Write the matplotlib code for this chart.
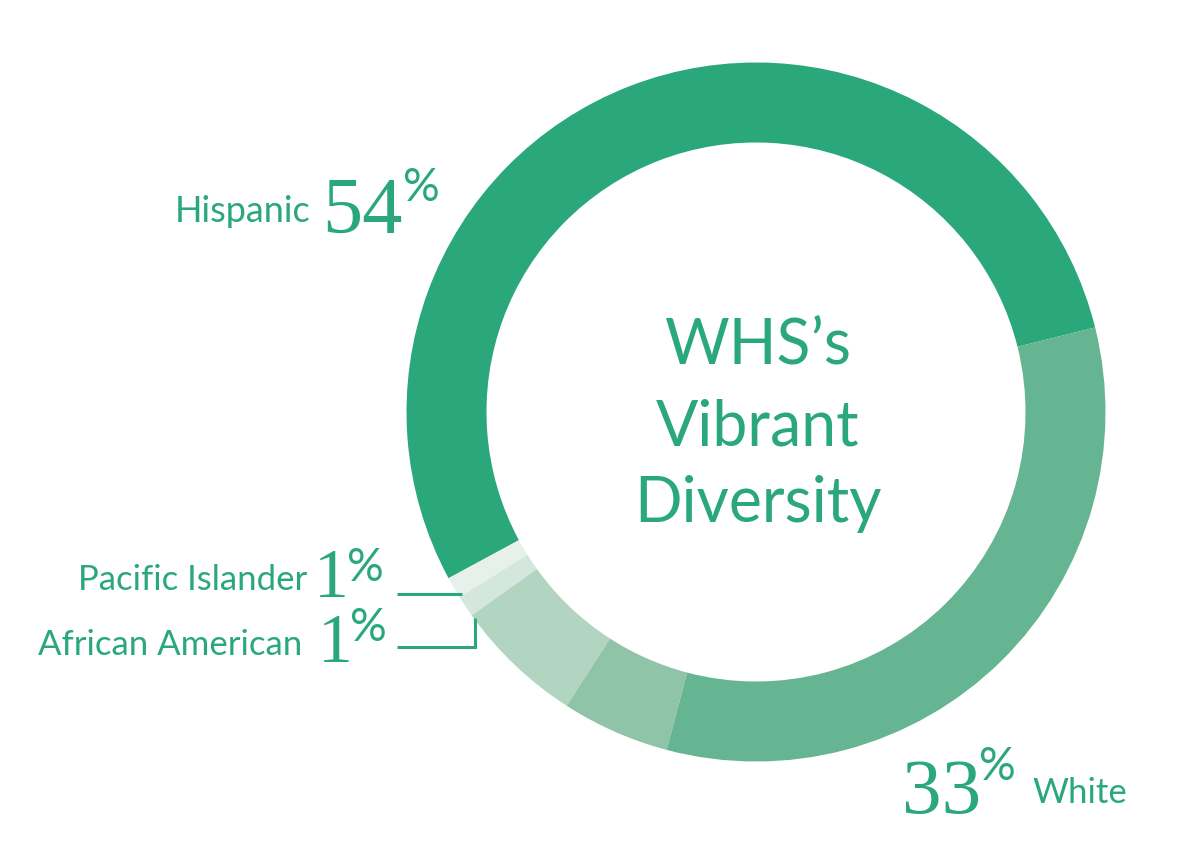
import matplotlib
matplotlib.use("Agg")
import matplotlib.pyplot as plt

# --- data ---
groups = ["Hispanic", "Pacific Islander", "African American", "Other A", "Other B", "White"]
shares = [54, 1, 1, 6, 5, 33]
colors = ["#2aa87b", "#e7f1ec", "#d4e7de", "#b2d5c2", "#8fc4a8", "#66b592"]

GREEN = "#2aa87b"
SANS = ["Lato", "DejaVu Sans"]
SERIF = ["Liberation Serif", "DejaVu Serif"]

W, H = 1181, 865
fig = plt.figure(figsize=(W / 100, H / 100), dpi=100)
ax = fig.add_axes([0, 0, 1, 1])
ax.set_xlim(0, W)
ax.set_ylim(0, H)
ax.set_aspect("equal")
ax.axis("off")

# donut
ax.pie(shares, colors=colors, startangle=14, counterclock=True,
       center=(756, 453), radius=349.5,
       wedgeprops=dict(width=80, linewidth=0))
ax.set_xlim(0, W)
ax.set_ylim(0, H)

# centre title
for txt, y in [("WHS\u2019s", 502), ("Vibrant", 420), ("Diversity", 343)]:
    ax.text(758, y, txt, ha="center", va="baseline", fontsize=45,
            color=GREEN, family=SANS)


def label(name, pct, xname, yname, xnum, ynum, xpc, ypc, sname, snum, spc, name_left=False):
    ax.text(xname, yname, name, ha="left" if name_left else "right", va="baseline",
            fontsize=sname, color=GREEN, family=SANS)
    ax.text(xnum, ynum, str(pct), ha="left", va="baseline",
            fontsize=snum, color=GREEN, family=SERIF)
    ax.text(xpc, ypc, "%", ha="left", va="baseline",
            fontsize=spc, color=GREEN, family=SANS)


label(groups[0], shares[0], 311, 643, 322, 632, 403, 664, 26, 58, 33)
label(groups[1], shares[1], 307, 275, 314, 268, 347, 284, 25, 50, 33)
label(groups[2], shares[2], 302, 210, 318, 203, 350, 224, 25, 50, 33)
label(groups[5], shares[5], 1032, 62, 902, 52, 979, 85, 25, 57, 33, name_left=True)

# leader lines
ax.plot([397, 462], [271, 271], color=GREEN, lw=2.2, solid_capstyle="butt")
ax.plot([397, 475, 475], [218, 218, 247], color=GREEN, lw=2.2,
        solid_capstyle="butt", solid_joinstyle="miter")

fig.savefig("out.png", dpi=100, facecolor="white")
